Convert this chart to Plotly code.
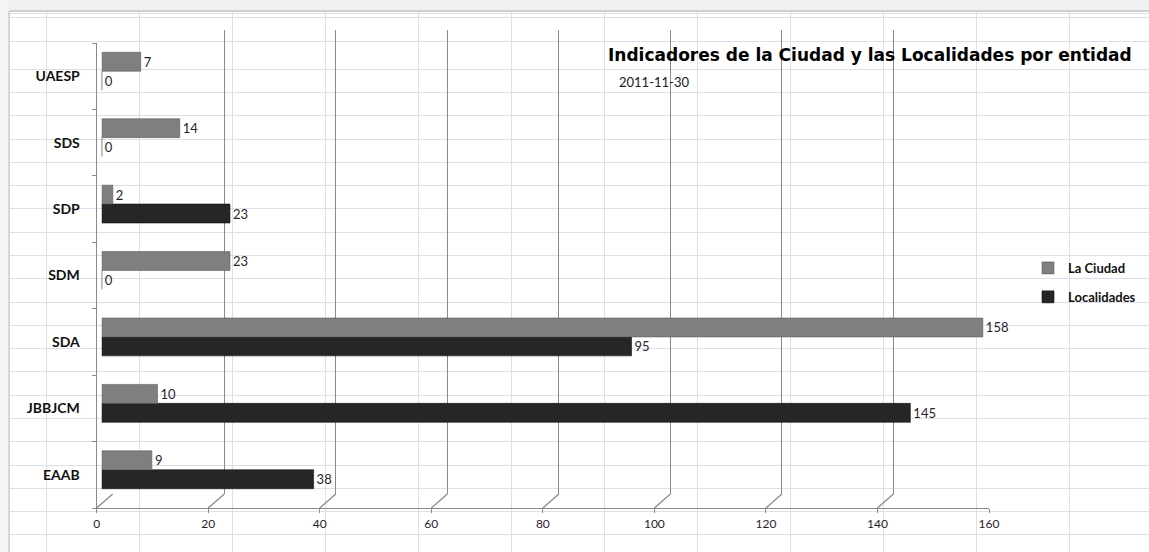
import plotly.graph_objects as go

# ---------------- data ----------------
categories = ["EAAB", "JBBJCM", "SDA", "SDM", "SDP", "SDS", "UAESP"]
la_ciudad = [9, 10, 158, 23, 2, 14, 7]
localidades = [38, 145, 95, 0, 23, 0, 0]
x_ticks = [0, 20, 40, 60, 80, 100, 120, 140, 160]
title_text = "Indicadores de la Ciudad y las Localidades por entidad"
subtitle_text = "2011-11-30"

W, H = 1149, 552
GRAY = "#7f7f7f"
BLACK = "#262626"
AXIS = "#8a8a8a"
TXT = "#2b1d2b"


def dom_x(a, b):
    return [a / W, b / W]


def dom_y(top, bottom):
    return [1 - bottom / H, 1 - top / H]


fig = go.Figure()

# empty placeholders so every axis pair becomes a subplot
for xa, ya in [("x", "y"), ("x2", "y2"), ("x4", "y4")]:
    fig.add_trace(go.Scatter(x=[None], y=[None], xaxis=xa, yaxis=ya,
                             showlegend=False, hoverinfo="skip", mode="markers"))

# bars (grouped; first trace lies lower in a horizontal group)
fig.add_trace(go.Bar(
    y=categories, x=localidades, orientation="h", name="Localidades",
    marker=dict(color=BLACK, line=dict(color="#111111", width=0.6)),
    text=localidades, textposition="outside", cliponaxis=False,
    textfont=dict(family="Lato", size=13, color=TXT),
    xaxis="x3", yaxis="y3", legendgroup="b", legendrank=2,
))
fig.add_trace(go.Bar(
    y=categories, x=la_ciudad, orientation="h", name="La Ciudad",
    marker=dict(color=GRAY, line=dict(color="#5e5e5e", width=0.6)),
    text=la_ciudad, textposition="outside", cliponaxis=False,
    textfont=dict(family="Lato", size=13, color=TXT),
    xaxis="x3", yaxis="y3", legendgroup="a", legendrank=1,
))

n = len(categories)
grid_rows = [13, 17, 41] + [69.3 + k * 23.28 for k in range(21)]
grid_cols = [46 + k * 93 for k in range(12)]

layout = dict(
    template="none",
    width=W, height=H,
    margin=dict(l=0, r=0, t=0, b=0, pad=0, autoexpand=False),
    paper_bgcolor="white", plot_bgcolor="rgba(0,0,0,0)",
    barmode="group", bargap=0.43, bargroupgap=0.0,
    showlegend=True,
    legend=dict(x=1028 / W, y=1 - 253 / H, xanchor="left", yanchor="top",
                bgcolor="rgba(0,0,0,0)", tracegroupgap=9, borderwidth=0,
                font=dict(family="Lato", size=13, color="#111111", weight="bold"),
                itemwidth=30),
    # spreadsheet background grid (pixel coordinates)
    xaxis=dict(domain=[0, 1], range=[0, W], tickvals=grid_cols, showgrid=True,
               gridcolor="#d9dfeb", gridwidth=1.2, showticklabels=False, ticks="",
               zeroline=False, showline=False, fixedrange=True, automargin=False),
    yaxis=dict(domain=[0, 1], range=[H, 0], tickvals=grid_rows, showgrid=True,
               gridcolor="#d9dfeb", gridwidth=1.2, showticklabels=False, ticks="",
               zeroline=False, showline=False, fixedrange=True, anchor="x",
               automargin=False),
    # back wall gridlines
    xaxis2=dict(domain=dom_x(112.7, 1005), range=[0, 160], tickvals=x_ticks,
                showgrid=True, gridcolor=AXIS, gridwidth=1.3, showticklabels=False,
                ticks="", zeroline=False, anchor="y2", automargin=False),
    yaxis2=dict(domain=dom_y(30, 494), range=[-0.5, n - 0.5], showgrid=False,
                showticklabels=False, ticks="", zeroline=False, anchor="x2",
                automargin=False),
    # bars
    xaxis3=dict(domain=dom_x(101.7, 994), range=[0, 160], showgrid=False,
                showticklabels=False, ticks="", zeroline=False, anchor="y3",
                automargin=False),
    yaxis3=dict(domain=dom_y(38, 503), range=[-0.5, n - 0.5], type="category",
                categoryarray=categories, showgrid=False, showticklabels=False,
                ticks="", zeroline=False, anchor="x3", automargin=False),
    # front axes with labels
    xaxis4=dict(domain=dom_x(96.7, 989), range=[0, 160], tickvals=x_ticks,
                showgrid=False, zeroline=False, showline=True, linecolor=AXIS,
                linewidth=1.3, ticks="outside", ticklen=4, tickcolor=AXIS,
                tickfont=dict(family="Lato", size=12, color=TXT), anchor="y4",
                automargin=False),
    yaxis4=dict(domain=dom_y(43, 508), range=[-0.5, n - 0.5],
                tickvals=list(range(n)), ticktext=categories,
                showgrid=False, zeroline=False, showline=True, linecolor=AXIS,
                linewidth=1.3, ticks="", ticklabelstandoff=13,
                minor=dict(tickvals=[i - 0.5 for i in range(n + 1)], ticks="outside",
                           ticklen=4, tickcolor=AXIS, showgrid=False),
                tickfont=dict(family="Lato", size=14, color="#111111", weight="bold"),
                anchor="x4", automargin=False),
)
fig.update_layout(**layout)

# 3D floor diagonals: from front ticks to back wall bottoms
dx_units = 16 / ((989 - 96.7) / 160)
dy_units = 14 / ((508 - 43) / n)
shapes = []
for v in x_ticks:
    shapes.append(dict(type="line", xref="x4", yref="y4", x0=v, y0=-0.5,
                       x1=v + dx_units, y1=-0.5 + dy_units,
                       line=dict(color=AXIS, width=1.3)))
shapes.append(dict(type="line", xref="x4", yref="y4", x0=0, y0=n - 0.5,
                   x1=dx_units, y1=n - 0.5 + dy_units,
                   line=dict(color=AXIS, width=1.3)))
# sheet frame shadow
shapes.append(dict(type="rect", xref="x", yref="y", x0=0, y0=0, x1=W, y1=10,
                   fillcolor="#f1f1f1", line=dict(width=0), layer="above"))
shapes.append(dict(type="rect", xref="x", yref="y", x0=0, y0=0, x1=8, y1=H,
                   fillcolor="#f4f4f4", line=dict(width=0), layer="above"))
shapes.append(dict(type="line", xref="x", yref="y", x0=9, y0=11, x1=W, y1=11,
                   line=dict(color="#cfcfcf", width=2)))
shapes.append(dict(type="line", xref="x", yref="y", x0=9, y0=11, x1=9, y1=H,
                   line=dict(color="#d6d6d6", width=2)))
fig.update_layout(shapes=shapes)

fig.add_annotation(text="<b>" + title_text + "</b>", xref="x", yref="y",
                   x=870, y=55, showarrow=False, xanchor="center", yanchor="middle",
                   font=dict(family="DejaVu Sans", size=17, color="#000000"))
fig.add_annotation(text=subtitle_text, xref="x", yref="y",
                   x=617, y=82, showarrow=False, xanchor="left", yanchor="middle",
                   font=dict(family="Lato", size=13, color="#1a1a1a"))

fig.write_html("out.html", config={"displayModeBar": False},
               post_script="document.body.style.margin='0px';document.body.style.overflow='hidden';")
